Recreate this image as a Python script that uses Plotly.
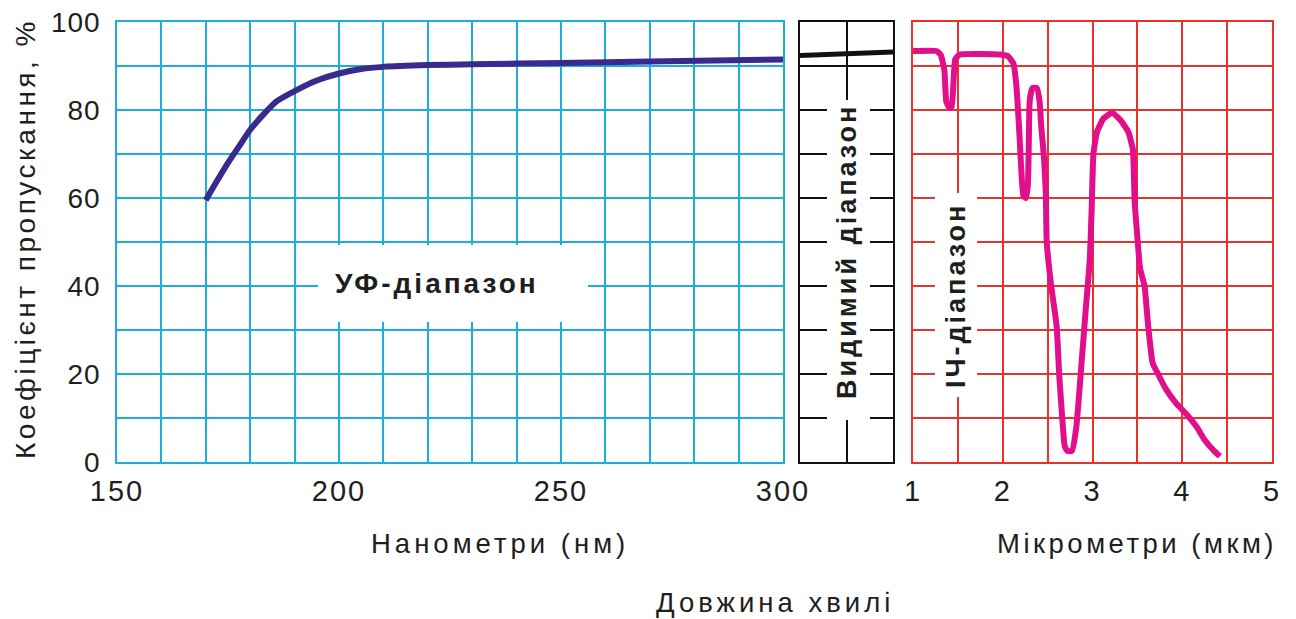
import plotly.graph_objects as go

# ---------------- data ----------------
uv_nm = [170, 172, 175, 178, 180, 183, 186, 190, 195, 200, 205, 210, 220, 230, 250, 270, 300]
uv_T = [59.5, 63, 68, 72.5, 75.5, 79, 82, 84.3, 86.7, 88.3, 89.3, 89.8, 90.2, 90.4, 90.7, 91.0, 91.5]

vis_nm = [400, 700]
vis_T = [92.4, 93.2]

ir_um = [1.00, 1.26, 1.31, 1.35, 1.37, 1.40, 1.43, 1.45, 1.47, 1.52, 1.97, 2.06, 2.12, 2.15, 2.17,
         2.19, 2.21, 2.23, 2.26, 2.28, 2.29, 2.30, 2.33, 2.38, 2.41, 2.43, 2.46, 2.48, 2.49, 2.54,
         2.60, 2.63, 2.67, 2.69, 2.72, 2.77, 2.82, 2.88, 2.93, 2.97, 2.99, 3.01, 3.05, 3.12, 3.22,
         3.32, 3.40, 3.45, 3.47, 3.50, 3.53, 3.58, 3.62, 3.67, 3.73, 3.82, 3.93, 4.05, 4.16, 4.25,
         4.36, 4.42]
ir_T = [93.4, 93.4, 92.5, 89, 82, 80.6, 80.6, 86, 91.5, 92.6, 92.6, 92.2, 90.5, 86, 80,
        73, 65, 60.5, 60, 63, 72, 82, 85, 85, 82, 76, 69, 61, 50, 40,
        31, 19.5, 8, 3.6, 2.5, 2.5, 8, 23, 36, 46, 57, 70, 75, 78, 79.4,
        77.5, 75, 71, 59, 51, 44, 40, 31, 22.5, 20, 16.5, 13.4, 10.8, 8, 5,
        2.4, 1.3]

uv_xticks = list(range(150, 301, 10))
uv_xlabels = [str(v) if v % 50 == 0 else "" for v in uv_xticks]
ir_xticks = [1 + 0.5 * i for i in range(9)]
ir_xlabels = [str(int(v)) if v == int(v) else "" for v in ir_xticks]
yticks = list(range(0, 101, 10))
ylabels = [str(v) if v % 20 == 0 else "" for v in yticks]

TXT = "#1e1e1e"
FONT = "Liberation Sans, Arial, sans-serif"
CYAN = "#1eaedc"
RED = "#eb3228"
BLK = "#111111"


def sp(s, ls=2):
    return f'<span style="letter-spacing:{ls}px">{s}</span>' if s else ""


W, H = 1296, 619
px = lambda x: x / W
py = lambda y: 1 - y / H

fig = go.Figure()
fig.add_trace(go.Scatter(x=uv_nm, y=uv_T, mode="lines", line=dict(color="#3a2a8e", width=6, shape="spline", smoothing=0.6),
                         xaxis="x", yaxis="y", showlegend=False, hoverinfo="skip"))
fig.add_trace(go.Scatter(x=vis_nm, y=vis_T, mode="lines", line=dict(color=BLK, width=5),
                         xaxis="x2", yaxis="y2", showlegend=False, hoverinfo="skip"))
fig.add_trace(go.Scatter(x=ir_um, y=ir_T, mode="lines", line=dict(color="#e10f8c", width=6, shape="spline", smoothing=0.4),
                         xaxis="x3", yaxis="y3", showlegend=False, hoverinfo="skip"))

ydom = [py(462), py(22)]


def xa(dom, rng, tv, tt, col, show=True):
    return dict(domain=dom, range=rng, tickvals=tv, ticktext=[sp(t, 2) for t in tt], showgrid=True,
                gridcolor=col, gridwidth=1.5, showline=True, linecolor=col, linewidth=1.5, mirror=True,
                zeroline=False, ticks="", showticklabels=show, automargin=False,
                tickfont=dict(family=FONT, size=29, color=TXT), ticklabelstandoff=2, fixedrange=True)


def ya(col, anchor, show=False):
    return dict(domain=ydom, range=[0, 100], tickvals=yticks, ticktext=[sp(t, 1) for t in ylabels],
                showgrid=True, gridcolor=col, gridwidth=1.5, showline=True, linecolor=col, linewidth=1.5,
                mirror=True, zeroline=False, ticks="", showticklabels=show, automargin=False, anchor=anchor,
                tickfont=dict(family=FONT, size=28, color=TXT), ticklabelstandoff=9, fixedrange=True)


fig.update_layout(
    width=W, height=H, margin=dict(l=0, r=0, t=0, b=0),
    paper_bgcolor="white", plot_bgcolor="white",
    xaxis=xa([px(117), px(783)], [150, 300], uv_xticks, uv_xlabels, CYAN),
    yaxis=ya(CYAN, "x", True),
    xaxis2=dict(xa([px(800), px(893)], [400, 700], [550], [""], BLK, False), anchor="y2"),
    yaxis2=ya(BLK, "x2"),
    xaxis3=dict(xa([px(913), px(1272)], [1, 5], ir_xticks, ir_xlabels, RED), anchor="y3"),
    yaxis3=ya(RED, "x3"),
)
fig.layout.xaxis.anchor = "y"

# white masks behind in-plot labels
for x0, x1, y0, y1 in [(318, 588, 245, 322), (827, 870, 100, 420), (935, 977, 193, 397)]:
    fig.add_shape(type="rect", xref="paper", yref="paper", x0=px(x0), x1=px(x1), y0=py(y1), y1=py(y0),
                  fillcolor="white", line=dict(width=0), layer="above")

ann = [
    dict(x=px(437), y=py(284), text="<b>" + sp("УФ-діапазон", 3) + "</b>", size=28, angle=0),
    dict(x=px(847), y=py(252), text="<b>" + sp("Видимий діапазон", 3) + "</b>", size=27, angle=-90),
    dict(x=px(956), y=py(295), text="<b>" + sp("ІЧ-діапазон", 3) + "</b>", size=27, angle=-90),
    dict(x=px(500), y=py(543), text=sp("Нанометри (нм)", 4), size=27.5, angle=0),
    dict(x=px(1137), y=py(543), text=sp("Мікрометри (мкм)", 3.5), size=27.5, angle=0),
    dict(x=px(775), y=py(602), text=sp("Довжина хвилі", 4), size=27.5, angle=0),
    dict(x=px(26), y=py(239), text=sp("Коефіцієнт пропускання, %", 3.5), size=28, angle=-90),
]
for a in ann:
    fig.add_annotation(x=a["x"], y=a["y"], xref="paper", yref="paper", text=a["text"], showarrow=False,
                       textangle=a["angle"], xanchor="center", yanchor="middle",
                       font=dict(family=FONT, size=a["size"], color=TXT))

fig.write_html("out.html", config={"displayModeBar": False})
